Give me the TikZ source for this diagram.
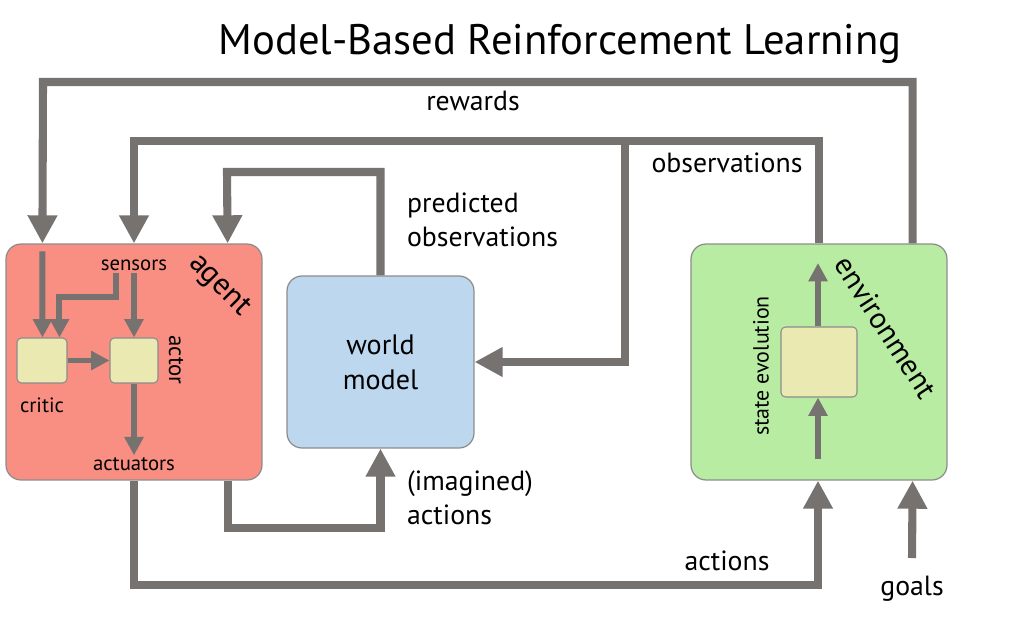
\documentclass[tikz,border=0pt]{standalone}
\usepackage{fontspec}
\setmainfont{PT Sans}
\usetikzlibrary{arrows.meta,calc}
\definecolor{lin}{RGB}{118,114,112}
\definecolor{agentfill}{RGB}{249,142,130}
\definecolor{wmfill}{RGB}{189,215,238}
\definecolor{envfill}{RGB}{183,236,162}
\definecolor{innerfill}{RGB}{234,233,178}
\definecolor{bord}{RGB}{140,140,140}
\tikzset{
  big/.style={draw=lin, line width=4.6pt, line join=miter, -{Triangle[width=16pt,length=16pt]}},
  small/.style={draw=lin, line width=3.4pt, line join=miter, -{Triangle[width=10.5pt,length=10.5pt]}},
  bigbox/.style={draw=bord, line width=0.7pt, rounded corners=8.5pt, inner sep=0pt},
  innerbox/.style={draw=bord, line width=0.6pt, fill=innerfill, rounded corners=2.5pt, inner sep=0pt},
  lbl/.style={font=\fontsize{15.8}{19.3}\selectfont, inner sep=1pt},
  slbl/.style={font=\fontsize{11.8}{13}\selectfont, inner sep=1pt},
}
\begin{document}
\begin{tikzpicture}[x=0.02cm, y=-0.02cm]
\useasboundingbox (0,0) rectangle (1016,618);
% title
\node[font=\fontsize{24.3}{28}\selectfont] (title) at (560,44) {Model-Based Reinforcement Learning};
% main boxes
\node[bigbox, fill=agentfill, minimum width=5.12cm, minimum height=4.72cm] (agent) at (134,362) {};
\node[bigbox, fill=wmfill, minimum width=3.74cm, minimum height=3.44cm, align=center, font=\fontsize{16}{20}\selectfont] (wm) at (380.5,362) {world\\model};
\node[bigbox, fill=envfill, minimum width=5.12cm, minimum height=4.72cm] (env) at (819,362) {};
% agent internals
\node[slbl] (sensors) at (134,265) {sensors};
\node[innerbox, minimum width=1.0cm, minimum height=0.9cm] (critic) at (42,360.5) {};
\node[innerbox, minimum width=0.96cm, minimum height=0.9cm] (actor) at (134,360.5) {};
\node[slbl] (criticl) at (42,405) {critic};
\node[slbl, font=\fontsize{13}{14}\selectfont, rotate=-90] (actorl) at (176,360) {actor};
\node[slbl] (actuators) at (134,464) {actuators};
\node[font=\fontsize{17.5}{20}\selectfont, rotate=-45] (agentl) at (219,286) {agent};
% environment internals
\node[innerbox, minimum width=1.52cm, minimum height=1.4cm] (sbox) at (819,362) {};
\node[slbl, font=\fontsize{12.5}{14}\selectfont, rotate=90] (stl) at (761,366) {state evolution};
\node[font=\fontsize{17}{20}\selectfont, rotate=-57] (envl) at (886,327) {environment};
\coordinate (envin) at (818,459);
\coordinate (envout) at (818,263);
\draw[small] (envin) -- (sbox.south -| envin);
\draw[small] (sbox.north -| envout) -- (envout);
% agent internal arrows
\coordinate (rin) at ($(agent.north west)+(37,8)$);
\draw[small] (rin) -- ($(critic.north west)+(26,0)$);
\draw[small] ($(sensors.south)+(-18,0)$) |- ($(critic.north west)+(43,-40)$) -- ($(critic.north west)+(43,0)$);
\draw[small] (sensors.south) -- (actor.north);
\draw[small] (critic.east) -- (actor.west);
\draw[small] (actor.south) -- (actuators.north);
% rewards
\draw[big] ($(env.north east)+(-35,0)$) |- (43,82) -- ($(agent.north west)+(37,0)$);
\node[lbl] (rewl) at (473,101) {rewards};
% observations
\coordinate (obsbr) at (625,141);
\draw[big] (env.north) |- (134,141) -- (agent.north);
\draw[big] (obsbr) |- (wm.east);
\node[lbl] (obsl) at (727,163) {observations};
% predicted observations
\draw[big] (wm.north) |- (227,172) -- ($(agent.north east)+(-35,0)$);
\node[lbl, anchor=west, align=left] (predl) at (405,220) {predicted\\observations};
% imagined actions
\draw[big] ($(agent.south east)+(-35,0)$) |- (380.5,528) -- (wm.south);
\node[lbl, anchor=west, align=left] (imagl) at (405,498) {(imagined)\\actions};
% actions
\draw[big] (agent.south) |- (818,585) -- (env.south -| envin);
\node[lbl] (actl) at (727,561) {actions};
% goals
\coordinate (goalsin) at (912,558);
\draw[big] (goalsin) -- ($(env.south east)+(-35,0)$);
\node[lbl] (goalsl) at (912,589) {goals};
\end{tikzpicture}
\end{document}
